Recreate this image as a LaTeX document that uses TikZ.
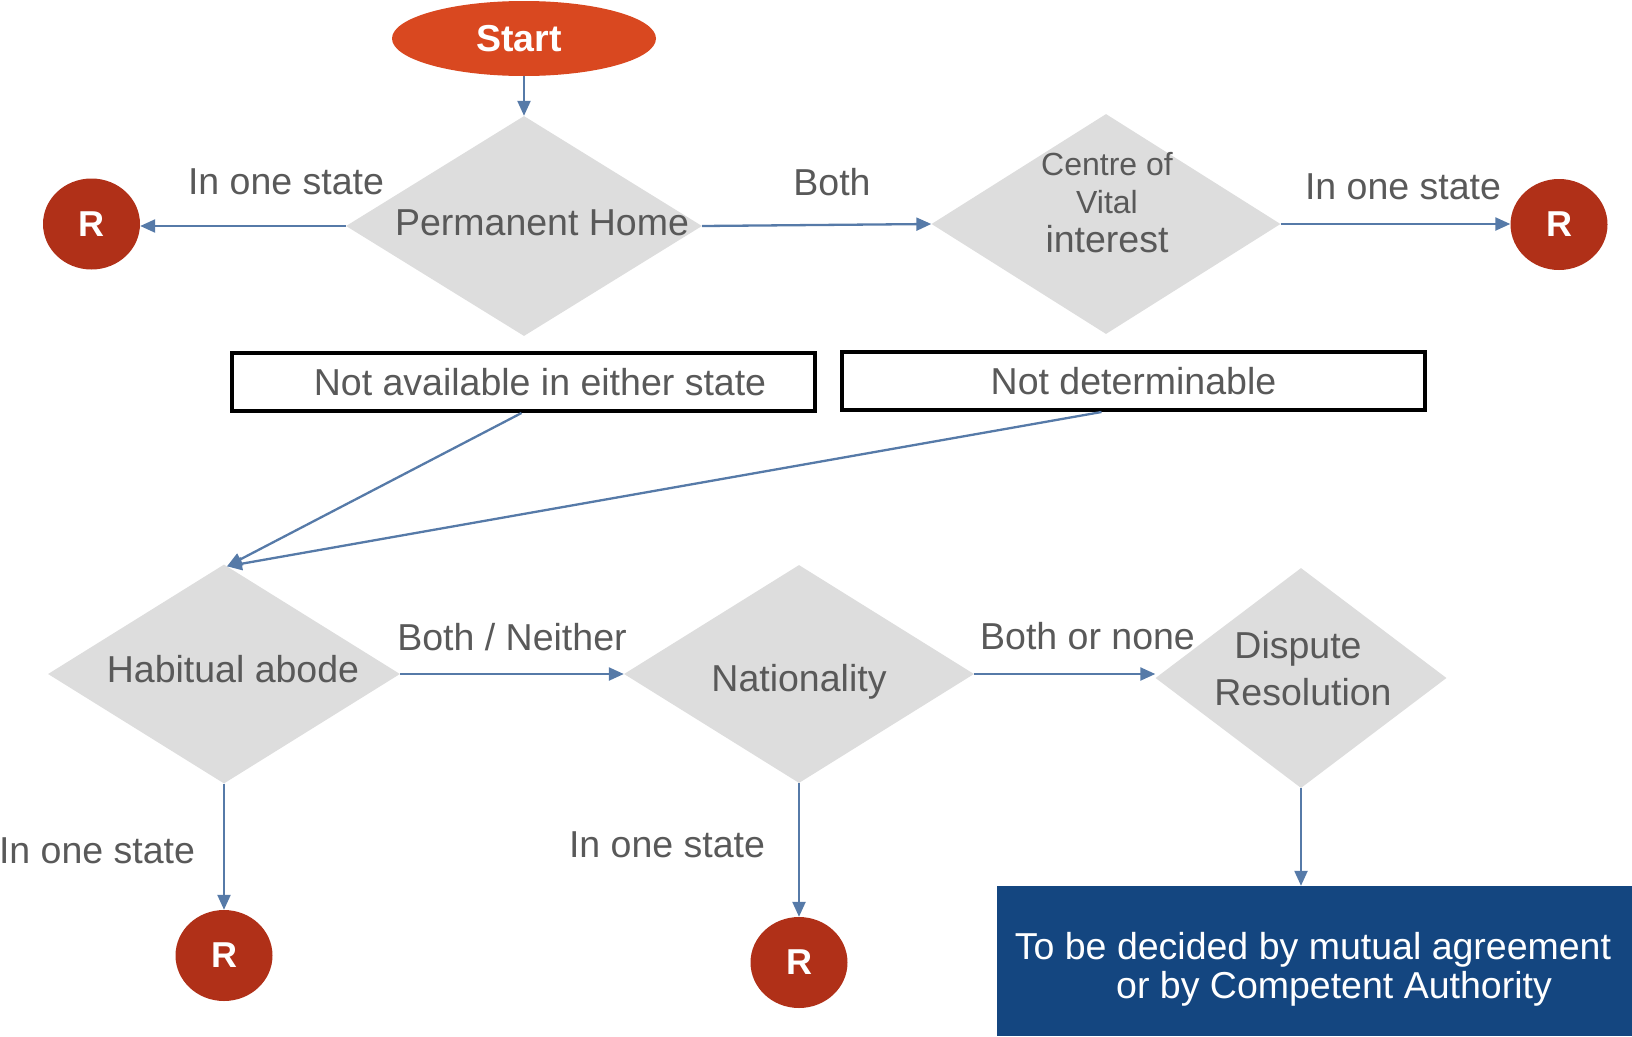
\documentclass[tikz,border=0pt]{standalone}
\usepackage{fontspec}
\setmainfont{Liberation Sans}
\usetikzlibrary{shapes.geometric,arrows.meta}
\definecolor{startred}{RGB}{217,72,32}
\definecolor{rred}{RGB}{176,48,24}
\definecolor{dgray}{RGB}{221,221,221}
\definecolor{arrowblue}{RGB}{86,122,168}
\definecolor{txtgray}{RGB}{89,89,89}
\definecolor{boxblue}{RGB}{20,70,128}
\tikzset{
  lbl/.style={font=\fontsize{37.5}{42}\selectfont, text=txtgray, inner sep=0pt, align=center},
  dia/.style={diamond, fill=dgray, draw=none, inner sep=0pt, minimum width=#1},
  rnode/.style={ellipse, fill=rred, inner sep=0pt, minimum width=97pt, minimum height=91pt,
    text=white, font=\fontsize{36}{40}\selectfont\bfseries},
  conn/.style={draw=arrowblue, line width=2.3pt, -{Triangle[length=15pt,width=13pt]}},
  outbox/.style={draw=black, line width=4pt, fill=white, minimum width=583pt, minimum height=58pt,
    inner sep=0pt, font=\fontsize{37.5}{42}\selectfont, text=txtgray}
}
\begin{document}
\begin{tikzpicture}[x=1pt,y=-1pt]
\useasboundingbox (0,0) rectangle (1632,1036);

% Start
\node[ellipse, fill=startred, minimum width=264pt, minimum height=75pt, inner sep=0pt,
  text=white, font=\fontsize{37.5}{40}\selectfont\bfseries] (Start) at (524,38.5) {\hspace*{-10pt}Start};

% Diamonds
\node[dia=356pt, minimum height=220pt] (PH) at (524,226) {};
\node[lbl] (PHt) at (542,223) {Permanent Home};

\node[dia=349pt, minimum height=220pt] (CVI) at (1106,224) {};
\node[lbl, font=\fontsize{32}{34}\selectfont] (CVIt1) at (1107,164.5) {Centre of};
\node[lbl, font=\fontsize{32}{34}\selectfont] (CVIt2) at (1107,202) {Vital};
\node[lbl] (CVIt3) at (1107,239.5) {interest};

\node[dia=352pt, minimum height=219pt] (HA) at (224,674) {};
\node[lbl] (HAt) at (233,669) {Habitual abode};

\node[dia=350pt, minimum height=218pt] (Nat) at (799,674) {};
\node[lbl] (Natt) at (799,681.5) {Nationality};

\node[dia=291pt, minimum height=220pt] (DR) at (1301,678) {};
\node[lbl] (DRt1) at (1298,649) {Dispute};
\node[lbl] (DRt2) at (1303,692) {Resolution};

% R circles
\node[rnode] (R1) at (91.5,224) {R};
\node[rnode] (R2) at (1559,224.5) {R};
\node[rnode] (R3) at (224,955.5) {R};
\node[rnode] (R4) at (799,962.5) {R};

% Outline boxes
\node[outbox] (B1) at (523.5,382) {\hspace*{33pt}Not available in either state};
\node[outbox] (B2) at (1133.5,381) {Not determinable};

% Blue box
\node[fill=boxblue, minimum width=635pt, minimum height=150pt, inner sep=0pt] (Blue) at (1314.5,961) {};
\node[font=\fontsize{37.5}{39}\selectfont, text=white, align=center, inner sep=0pt] (BlueT) at (1313,969)
  {To be decided by mutual agreement\\\hspace*{42pt}or by Competent Authority};

% Labels
\node[lbl] (L1) at (286,182) {In one state};
\node[lbl] (L2) at (832,182) {Both};
\node[lbl] (L3) at (1403,187) {In one state};
\node[lbl] (L4) at (512,637) {Both / Neither};
\node[lbl] (L5) at (1087.5,636) {Both or none};
\node[lbl] (L6) at (97,851) {In one state};
\node[lbl] (L7) at (667,845) {In one state};

% Connectors
\draw[conn] (Start.south) -- (PH.north);
\draw[conn] (PH.west) -- (PH.west -| R1.east);
\draw[conn] (PH.east) -- (CVI.west);
\draw[conn] (CVI.east) -- (CVI.east -| R2.west);
\draw[conn] ([xshift=-2pt]B1.south) -- ([xshift=3pt,yshift=-2pt]HA.north);
\draw[conn] ([xshift=-32pt]B2.south) -- ([xshift=3pt,yshift=-2pt]HA.north);
\draw[conn] (HA.east) -- (Nat.west);
\draw[conn] (Nat.east) -- (Nat.east -| DR.west);
\draw[conn] (DR.south) -- (DR.south |- Blue.north);
\draw[conn] (HA.south) -- (R3.north);
\draw[conn] (Nat.south) -- (R4.north);
\end{tikzpicture}
\end{document}
